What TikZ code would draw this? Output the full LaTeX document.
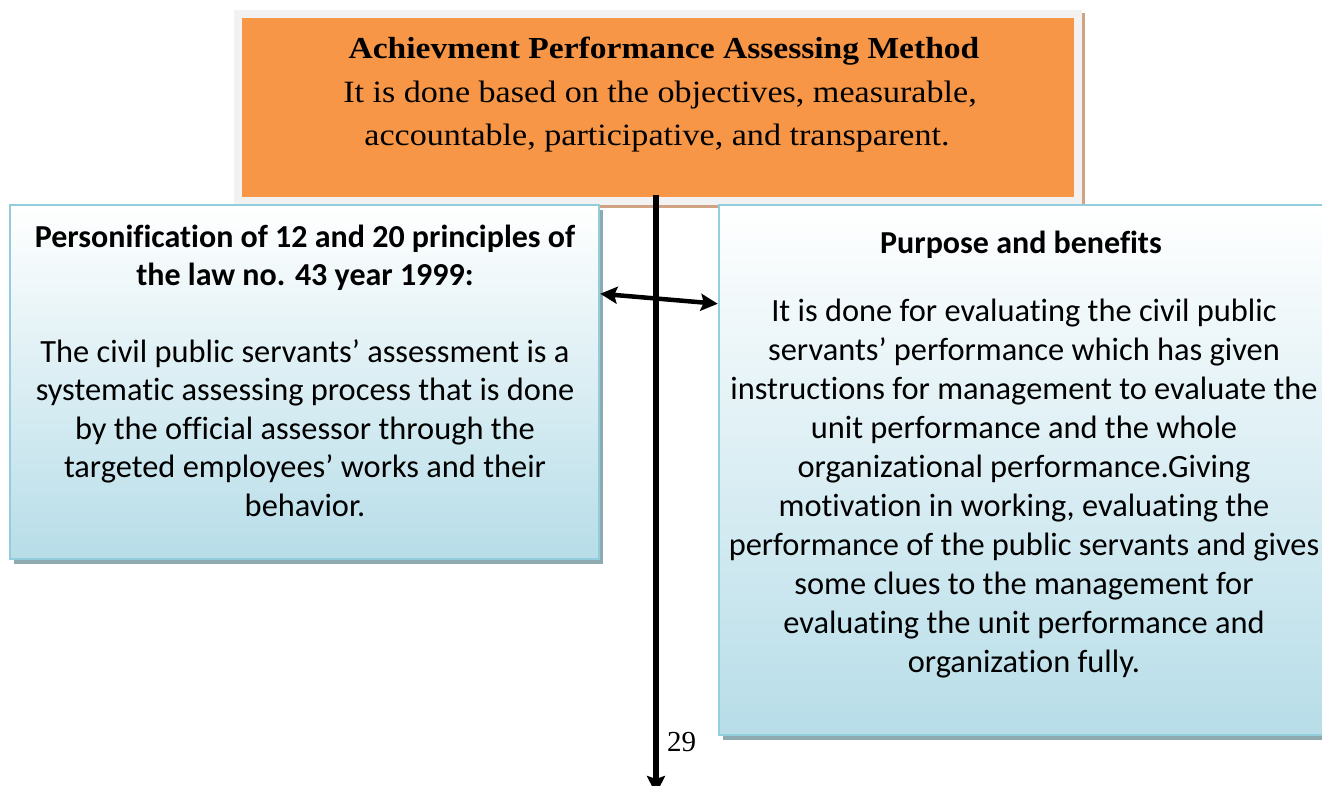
\documentclass[tikz,border=0pt]{standalone}
\usepackage{fontspec}
\setmainfont{Liberation Serif}
\newfontfamily\capfont[FakeStretch=1.1]{Liberation Serif}
\newfontfamily\calfont[Ligatures={NoCommon}]{Carlito}
\usetikzlibrary{arrows.meta,calc,shadows}
\definecolor{orangeF}{HTML}{F79646}
\definecolor{frameG}{HTML}{F2F2F2}
\definecolor{tanS}{HTML}{CFA383}
\definecolor{blueB}{HTML}{92CDDC}
\definecolor{blueF}{HTML}{B7DDE8}
\definecolor{shadowG}{HTML}{8EA9B0}
\begin{document}
\begin{tikzpicture}[x=1pt,y=-1pt,
  topframe/.style={fill=frameG, draw=none, inner sep=0pt,
    drop shadow={shadow xshift=3pt, shadow yshift=-3pt, fill=tanS, opacity=1}},
  orangebox/.style={fill=orangeF, draw=none, inner sep=0pt},
  bluebox/.style={draw=blueB, line width=2.5pt, top color=white, bottom color=blueF, inner sep=0pt,
    drop shadow={shadow xshift=3.5pt, shadow yshift=-4.5pt, fill=shadowG, opacity=1}},
  toptitle/.style={font=\capfont\bfseries\fontsize{30.5}{43}\selectfont, inner sep=0pt, anchor=base},
  toptext/.style={font=\capfont\fontsize{31}{43}\selectfont, inner sep=0pt, anchor=base},
  boxtitle/.style={font=\calfont\bfseries\fontsize{32}{38}\selectfont, inner sep=0pt, anchor=base},
  boxtext/.style={font=\calfont\fontsize{32.4}{38}\selectfont, inner sep=0pt, anchor=base},
  vline/.style={line width=6pt, -{Stealth[length=18pt,width=18pt,inset=3pt]}},
  dblarrow/.style={line width=4.5pt, {Stealth[length=17pt,width=17pt,inset=3pt]}-{Stealth[length=17pt,width=17pt,inset=3pt]}}
]
\useasboundingbox (0,0) rectangle (1322,785);
\clip (0,0) rectangle (1322,785);

% top box
\node[topframe, minimum width=848pt, minimum height=195pt] (frame) at (658,107.5) {};
\node[orangebox, minimum width=832pt, minimum height=179pt] (top) at (658,107.5) {};
\node[toptitle] (t1) at (664,58) {Achievment Performance Assessing Method};
\node[toptext] (t2) at (660,102) {It is done based on the objectives, measurable,};
\node[toptext] (t3) at (657,145) {accountable, participative, and transparent.};

% left box
\node[bluebox, minimum width=589pt, minimum height=354pt] (left) at (304.5,382) {};
\node[boxtitle] (l1) at (305,247) {Personification of 12 and 20 principles of};
\node[boxtitle] (l2) at (305,285) {the law no. 43 year 1999:};
\foreach \t [count=\i] in {%
  {The civil public servants’ assessment is a},
  {systematic assessing process that is done},
  {by the official assessor through the},
  {targeted employees’ works and their},
  {behavior.}}
  \node[boxtext] (lb\i) at (305,{362+38.5*(\i-1)}) {\t};

% right box
\node[bluebox, minimum width=607pt, minimum height=530pt] (right) at (1022.5,470) {};
\node[boxtitle] (r1) at (1021,253) {Purpose and benefits};
\foreach \t [count=\i] in {%
  {It is done for evaluating the civil public},
  {servants’ performance which has given},
  {instructions for management to evaluate the},
  {unit performance and the whole},
  {organizational performance.Giving},
  {motivation in working, evaluating the},
  {performance of the public servants and gives},
  {some clues to the management for},
  {evaluating the unit performance and},
  {organization fully.}}
  \node[boxtext] (rb\i) at (1024,{321+39*(\i-1)}) {\t};

% connectors
\coordinate (vend) at (656,794);
\draw[vline] ($(top.south)+(-2,-2)$) -- (vend);
\draw[dblarrow] ($(left.north east)+(0,90)$) -- ($(right.north west)+(0,100)$);

% page number
\node[font=\fontsize{29}{32}\selectfont, inner sep=0pt, anchor=base west] (pg) at (667,751) {29};
\end{tikzpicture}
\end{document}
